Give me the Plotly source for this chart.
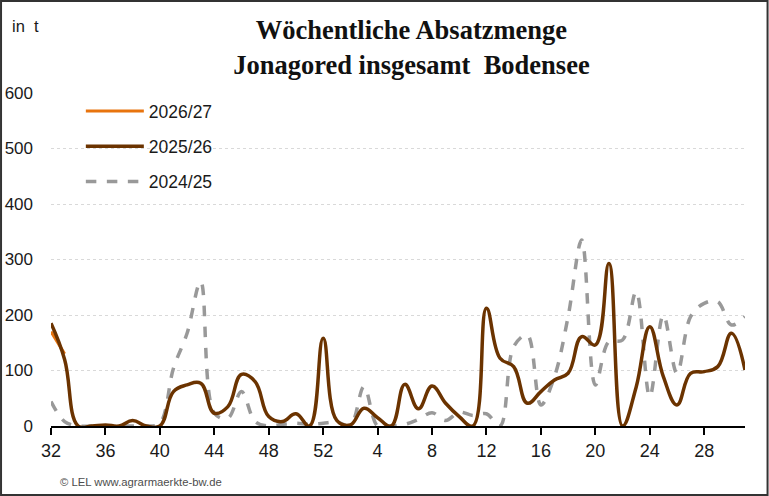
import plotly.graph_objects as go

# Kalenderwochen: 32..52, dann 1..31
weeks = [str(w) for w in range(32, 53)] + [str(w) for w in range(1, 32)]
tick_weeks = ["32", "36", "40", "44", "48", "52", "4", "8", "12", "16", "20", "24", "28"]

# Absatzmenge in t
season_2026_27 = [170, 130]
season_2025_26 = [185, 120, 0, 0, 2, 0, 10, 0, 0, 62, 74, 77, 23, 35, 93, 80, 17, 8, 22, 0, 158,
                  10, 2, 32, 15, 0, 75, 31, 72, 41, 17, 0, 212, 122, 107, 41, 62, 83, 95, 161, 146,
                  293, 0, 70, 179, 89, 38, 95, 98, 107, 167, 101]
season_2024_25 = [44, 8, 0, 0, 0, 0, 0, 0, 5, 104, 167, 260, 23, 14, 62, 8, 0, 3, 5, 3, 5,
                  7, 1, 71, 0, 0, 3, 12, 24, 10, 25, 19, 22, 0, 143, 164, 38, 89, 197, 335, 74,
                  152, 155, 242, 53, 200, 95, 197, 221, 224, 182, 197]

fig = go.Figure()

fig.add_trace(go.Scatter(
    x=weeks, y=season_2024_25, name="2024/25", mode="lines",
    line=dict(color="#999999", width=3.5, dash="dash", shape="spline", smoothing=1),
    legendgroup="c", legendrank=3))
fig.add_trace(go.Scatter(
    x=weeks[:len(season_2026_27)], y=season_2026_27, name="2026/27", mode="lines",
    line=dict(color="#E8740E", width=3, shape="spline", smoothing=1),
    legendgroup="a", legendrank=1))
fig.add_trace(go.Scatter(
    x=weeks, y=season_2025_26, name="2025/26", mode="lines",
    line=dict(color="#6B3300", width=3.5, shape="spline", smoothing=1.2),
    legendgroup="b", legendrank=2))

fig.update_layout(
    width=769, height=496,
    margin=dict(l=51, r=24, t=93, b=70),
    paper_bgcolor="white", plot_bgcolor="white",
    font=dict(family="Liberation Sans, Arial, sans-serif", size=15, color="#1a1a1a"),
    title=dict(
        text="<b>Wöchentliche Absatzmenge<br>Jonagored insgesamt  Bodensee</b>",
        x=0.535, xanchor="center", y=0.921, yanchor="top",
        font=dict(family="Liberation Serif, Times New Roman, serif", size=26.5, color="#111111"),
    ),
    showlegend=True,
    legend=dict(
        x=0.043, y=1.0, xanchor="left", yanchor="top",
        traceorder="grouped", tracegroupgap=9.5,
        itemwidth=58, bgcolor="rgba(0,0,0,0)",
        font=dict(size=17.5, color="#1a1a1a"),
    ),
)

fig.update_xaxes(
    type="category", categoryorder="array", categoryarray=weeks,
    range=[0, len(weeks) - 1], automargin=False,
    tickmode="array", tickvals=tick_weeks, ticktext=tick_weeks,
    showline=True, linecolor="black", linewidth=2,
    ticks="outside", ticklen=7, tickwidth=2, tickcolor="black",
    showgrid=False, zeroline=False,
    tickfont=dict(size=18),
)
fig.update_yaxes(
    range=[0, 600], tickvals=[0, 100, 200, 300, 400, 500, 600], automargin=False,
    showgrid=True, gridcolor="#D9D9D9", griddash="dot", gridwidth=1,
    showline=False, zeroline=False, ticks="", ticklabelstandoff=17,
    tickfont=dict(size=17),
)

# Einheit und Quelle
fig.add_annotation(text="in  t", xref="paper", yref="paper", x=-0.059, y=1.2,
                   xanchor="left", yanchor="middle", showarrow=False,
                   font=dict(size=16.5, color="#1a1a1a"))
fig.add_annotation(text="© LEL www.agrarmaerkte-bw.de", xref="paper", yref="paper",
                   x=0.010, y=-0.168, xanchor="left", yanchor="middle", showarrow=False,
                   font=dict(size=11.3, color="#4d4d4d"))

# Rahmen um die ganze Grafik
fig.add_shape(type="rect", xref="paper", yref="paper", x0=-0.072, y0=-0.207, x1=1.0325, y1=1.276,
              line=dict(color="#333333", width=2), fillcolor="rgba(0,0,0,0)", layer="below")

fig.write_html("out.html", config={"displayModeBar": False},
               post_script="document.body.style.margin='0';")
